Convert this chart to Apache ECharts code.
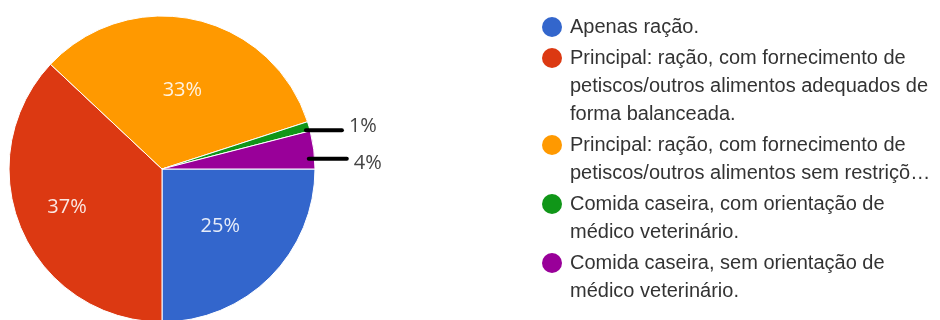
<!DOCTYPE html>
<html>
<head>
<meta charset="utf-8">
<script src="https://cdn.jsdelivr.net/npm/echarts@6/dist/echarts.min.js"></script>
<style>
  html, body { margin: 0; padding: 0; background: #fff; }
  #chart { width: 940px; height: 320px; }
</style>
</head>
<body>
<div id="chart"></div>
<script>
// Answer categories (full text) and their shares in percent
const categories = [
  'Apenas ração.',
  'Principal: ração, com fornecimento de petiscos/outros alimentos adequados de forma balanceada.',
  'Principal: ração, com fornecimento de petiscos/outros alimentos sem restrições.',
  'Comida caseira, com orientação de médico veterinário.',
  'Comida caseira, sem orientação de médico veterinário.'
];
const shares = [25, 37, 33, 1, 4];

// Legend text as it is wrapped (and cut) beside the chart
const legendLines = [
  ['Apenas ração.'],
  ['Principal: ração, com fornecimento de', 'petiscos/outros alimentos adequados de', 'forma balanceada.'],
  ['Principal: ração, com fornecimento de', 'petiscos/outros alimentos sem restriçõ…'],
  ['Comida caseira, com orientação de', 'médico veterinário.'],
  ['Comida caseira, sem orientação de', 'médico veterinário.']
];

const colors = ['#3366cc', '#dc3912', '#ff9900', '#109618', '#990099'];
const LINE_H = 28;
const DOT = 20;
// nudges for the labels drawn inside the slices
const innerNudge = { 0: { dx: 2, dy: 1 }, 1: { dx: -22, dy: 7 }, 2: { dx: 3, dy: -1 } };
// the two thin slices carry their value outside, behind a black pointer bar
const outerLabel = {
  3: { dx: -5, dy: 4, bar: 40, valuePad: [0, 0, 8, 5] },
  4: { dx: -7, dy: 9, bar: 42, valuePad: [8, 0, 0, 5] }
};

const chart = echarts.init(document.getElementById('chart'), null, { renderer: 'canvas' });

const outsideRich = {};
const pieData = categories.map((name, i) => {
  const item = { name: name, value: shares[i] };
  const o = outerLabel[i];
  if (o) {
    outsideRich['bar' + i] = { width: o.bar, height: 4, backgroundColor: '#000', borderRadius: 2 };
    outsideRich['val' + i] = {
      fontFamily: 'Open Sans, sans-serif', fontSize: 20, color: '#444', padding: o.valuePad
    };
    item.label = {
      position: 'outside',
      distanceToLabelLine: 0,
      formatter: '{bar' + i + '|}{val' + i + '|{d}%}'
    };
  }
  return item;
});

// rich styles: a coloured dot per category, a gap and a hanging indent
const rich = {
  gap: { width: 8, height: DOT, lineHeight: LINE_H },
  ind: { width: DOT + 8, height: DOT, lineHeight: LINE_H },
  t: { fontFamily: 'Liberation Sans, Arial, sans-serif', fontSize: 20, lineHeight: LINE_H, color: '#333' }
};
colors.forEach((c, i) => {
  rich['dot' + i] = { width: DOT, height: DOT, borderRadius: DOT / 2, backgroundColor: c, lineHeight: LINE_H };
});

function legendText(name) {
  const i = categories.indexOf(name);
  return legendLines[i].map((line, k) =>
    (k === 0 ? '{dot' + i + '|}{gap|}' : '{ind|}') + '{t|' + line + '}'
  ).join('\n');
}

chart.setOption({
  animation: false,
  color: colors,
  legend: {
    orient: 'vertical',
    left: 536,
    top: 13,
    height: 600,
    padding: 0,
    itemWidth: 0,
    itemHeight: 0,
    itemGap: 3,
    selectedMode: false,
    data: categories,
    formatter: legendText,
    textStyle: {
      fontFamily: 'Liberation Sans, Arial, sans-serif',
      fontSize: 20,
      lineHeight: LINE_H,
      color: '#333',
      rich: rich
    }
  },
  series: [{
    type: 'pie',
    center: [162, 169],
    radius: 153,
    startAngle: 0,
    clockwise: true,
    percentPrecision: 0,
    avoidLabelOverlap: false,
    emphasis: { disabled: true },
    itemStyle: { borderColor: '#fff', borderWidth: 1 },
    label: {
      position: 'inside',
      formatter: '{d}%',
      fontFamily: 'Open Sans, sans-serif',
      fontSize: 20,
      color: 'rgba(255,255,255,0.88)',
      rich: outsideRich
    },
    labelLine: { show: false, length: 0, length2: 0 },
    labelLayout: params => {
      const i = params.dataIndex;
      if (innerNudge[i]) return innerNudge[i];
      const o = outerLabel[i];
      return o ? { dx: o.dx, dy: o.dy } : {};
    },
    data: pieData
  }]
});
</script>
</body>
</html>
